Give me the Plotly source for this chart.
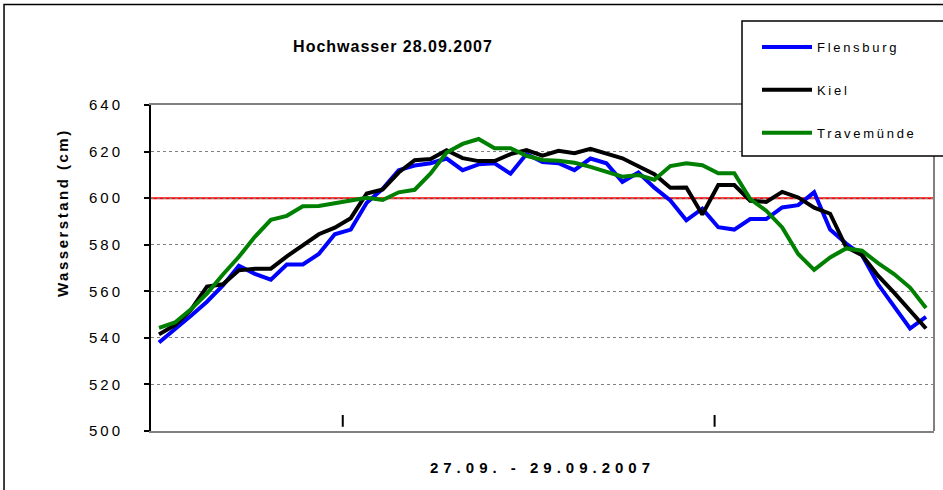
import plotly.graph_objects as go

# Stundenwerte (Index 0..48) 27.09. - 29.09.2007
hours = list(range(49))

flensburg = [538, 543.5, 549.5, 555.5, 562.5, 571, 567.5, 565, 571.5, 571.5,
             576, 584.5, 586.5, 598, 604, 612, 614, 615, 617, 612,
             614.5, 615, 610.5, 619, 615.5, 615, 612, 617, 615, 607,
             611, 604.5, 599, 590.5, 595.5, 587.5, 586.5, 591, 591, 596,
             597, 602.5, 586.5, 580.5, 575.5, 563, 553.5, 544, 549]

kiel = [541.5, 545.5, 552, 562, 563, 569, 569.7, 569.7, 575, 580,
        584.5, 587.3, 591.4, 602, 603.7, 611, 616.3, 616.8, 620.6, 617.2,
        615.9, 615.9, 618.9, 620.6, 618.2, 620.3, 619.3, 621.2, 619.3, 617.1,
        613.7, 610.3, 604.5, 604.6, 593, 605.6, 605.6, 598.9, 598.4, 602.7,
        600.3, 595.9, 593.3, 579, 575.5, 566.7, 559.4, 552, 544]

travemuende = [544.3, 546.6, 552.3, 559, 567.2, 574.8, 583.4, 590.7, 592.4, 596.5,
               596.6, 597.6, 599, 600.2, 599.2, 602.5, 603.6, 610.6, 619.6, 623.3,
               625.4, 621.4, 621.4, 618.2, 616.4, 616.1, 615.2, 613.4, 611.3, 609.2,
               609.9, 607.9, 613.8, 615, 614.1, 610.7, 610.7, 599.6, 594.6, 587.4,
               576, 569.2, 574.5, 578.4, 577.4, 572.1, 567.4, 561.6, 552.8]

y_ticks = [500, 520, 540, 560, 580, 600, 620, 640]
warn_level = 600
day_marks = [11.5, 34.77]   # Tagesgrenzen auf der x-Achse


def spaced(text, px):
    return f'<span style="letter-spacing:{px}px">{text}</span>'


series = [
    ('Flensburg', flensburg, '#0000FF'),
    ('Kiel', kiel, '#000000'),
    ('Travemünde', travemuende, '#008000'),
]

fig = go.Figure()
for name, values, color in series:
    fig.add_trace(go.Scatter(
        x=hours, y=values, mode='lines', name=spaced(name, 2.7),
        legendgroup=name,
        line=dict(color=color, width=4),
    ))

# Warnlinie 600 cm
fig.add_hline(y=warn_level, line_color='#FF0000', line_width=2, layer='below')

shapes = []
# rechter Rand der Zeichenfläche
shapes.append(dict(type='line', xref='paper', yref='paper', x0=1, x1=1, y0=0, y1=1,
                   line=dict(color='#808080', width=2)))
# Tagesmarken
for m in day_marks:
    shapes.append(dict(type='line', xref='x', yref='paper', x0=m, x1=m, y0=0.013, y1=0.049,
                       line=dict(color='black', width=2)))
# Rahmen des Diagramms
shapes.append(dict(type='rect', xref='paper', yref='paper', x0=-0.1877, x1=1.2, y0=-0.4, y1=1.308,
                   line=dict(color='black', width=1.5), layer='below'))
# Legendenkasten
shapes.append(dict(type='rect', xref='paper', yref='paper', x0=0.7548, x1=1.2, y0=0.8436, y1=1.2577,
                   fillcolor='white', line=dict(color='black', width=1.5), layer='above'))
for s in shapes:
    fig.add_shape(**s)

# y-Achsentitel (sitzt im Original oberhalb der Mitte)
fig.add_annotation(text=spaced('Wasserstand (cm)', 2.5), xref='paper', yref='paper',
                   x=(62 - 151) / 783, y=(431 - 213) / 326, textangle=-90,
                   xanchor='center', yanchor='middle',
                   showarrow=False, font=dict(size=15, weight='bold'))

fig.update_layout(
    width=943,
    height=490,
    paper_bgcolor='white',
    plot_bgcolor='white',
    margin=dict(l=151, r=9, t=105, b=59),
    font=dict(family='Liberation Sans, Arial', color='black', size=14),
    title=dict(text=spaced('Hochwasser 28.09.2007', 1), xref='container', x=393 / 943,
               xanchor='center', yref='container', y=1 - 46 / 490, yanchor='middle',
               font=dict(size=16, weight='bold')),
    xaxis=dict(range=[-0.5, 48.5], showticklabels=False, ticks='', showgrid=False,
               showline=True, linecolor='#808080', linewidth=2, mirror=True, zeroline=False,
               title=dict(text=spaced('27.09. - 29.09.2007', 5), standoff=30,
                          font=dict(size=15, weight='bold'))),
    yaxis=dict(range=[500, 640], tickvals=y_ticks,
               ticktext=[spaced(str(v), 3) for v in y_ticks],
               showgrid=True, gridcolor='#808080', griddash='dot', gridwidth=1,
               showline=True, linecolor='black', linewidth=2, zeroline=False,
               ticks='outside', ticklen=5, tickcolor='black', tickwidth=1.5,
               ticklabelstandoff=18, tickfont=dict(size=15)),
    legend=dict(x=(757 - 151) / 783, y=(431 - 32) / 326, xanchor='left', yanchor='top',
                bgcolor='rgba(0,0,0,0)', borderwidth=0, tracegroupgap=23,
                itemwidth=50, font=dict(size=13)),
)

fig.write_html("out.html", config={'displayModeBar': False},
               post_script="document.body.style.margin='0';")
